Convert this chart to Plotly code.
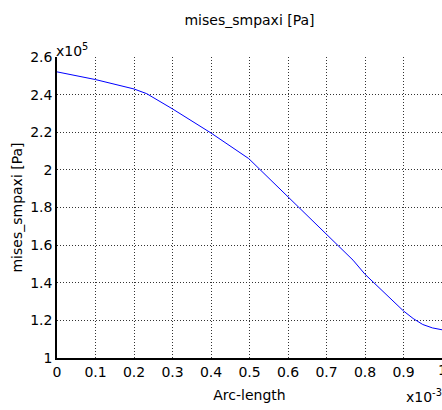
import plotly.graph_objects as go

# Arc-length (x10^-3) and von Mises stress (x10^5 Pa)
arc_length = [0.0, 0.1, 0.2, 0.233, 0.3, 0.4, 0.498, 0.6, 0.7, 0.769, 0.8, 0.85, 0.9, 0.925, 0.95, 0.975, 1.0]
mises = [2.521, 2.48, 2.43, 2.405, 2.324, 2.196, 2.060, 1.858, 1.659, 1.52, 1.445, 1.346, 1.25, 1.21, 1.178, 1.16, 1.15]

x_ticks = [0, 0.1, 0.2, 0.3, 0.4, 0.5, 0.6, 0.7, 0.8, 0.9, 1]
x_labels = ["0", "0.1", "0.2", "0.3", "0.4", "0.5", "0.6", "0.7", "0.8", "0.9", "1"]
y_ticks = [1, 1.2, 1.4, 1.6, 1.8, 2, 2.2, 2.4, 2.6]
y_labels = ["1", "1.2", "1.4", "1.6", "1.8", "2", "2.2", "2.4", "2.6"]

FONT = "DejaVu Sans"
FS = 14

fig = go.Figure()
fig.add_trace(go.Scatter(x=arc_length, y=mises, mode="lines",
                         line=dict(color="#0000ff", width=1), showlegend=False))

axis_common = dict(showgrid=True, gridcolor="#333333", griddash="1px,2px", gridwidth=1,
                   showline=True, linecolor="black", linewidth=1.5, ticks="",
                   zeroline=False, tickfont=dict(family=FONT, size=FS, color="black"))

fig.update_layout(
    width=442, height=410,
    margin=dict(l=57, r=0, t=57, b=52),
    paper_bgcolor="white", plot_bgcolor="white",
    font=dict(family=FONT, size=FS, color="black"),
    title=dict(text="mises_smpaxi [Pa]", x=0.5645, xanchor="center", y=0.95, yanchor="middle",
               font=dict(family=FONT, size=FS, color="black")),
    xaxis=dict(range=[0, 1], tickvals=x_ticks, ticktext=x_labels,
               title=dict(text="Arc-length", standoff=12, font=dict(family=FONT, size=FS)),
               **axis_common),
    yaxis=dict(range=[1, 2.6], tickvals=y_ticks, ticktext=y_labels,
               title=dict(text="mises_smpaxi [Pa]", standoff=4, font=dict(family=FONT, size=FS)),
               **axis_common),
    annotations=[
        dict(text="x10<sup>5</sup>", x=0, y=1, xref="paper", yref="paper",
             xanchor="left", yanchor="bottom", showarrow=False,
             font=dict(family=FONT, size=FS, color="black"), xshift=-3, yshift=-4),
        dict(text="x10<sup>-3</sup>", x=1, y=0, xref="paper", yref="paper",
             xanchor="right", yanchor="top", showarrow=False,
             font=dict(family=FONT, size=FS, color="black"), xshift=2, yshift=-27),
        dict(text="1", x=1, y=0, xref="paper", yref="paper",
             xanchor="center", yanchor="top", showarrow=False,
             font=dict(family=FONT, size=FS, color="black"), yshift=-2),
    ],
)

fig.write_html("out.html")
